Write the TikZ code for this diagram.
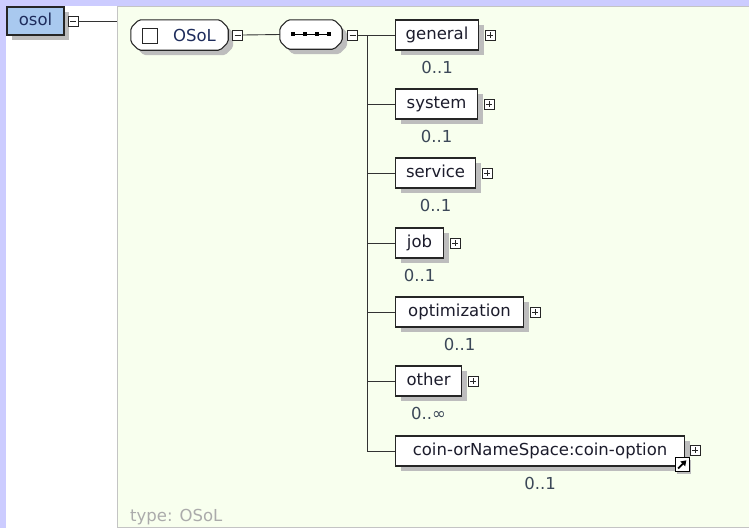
\documentclass[tikz,border=0pt]{standalone}
\usepackage{fontspec}
\setmainfont{DejaVu Sans}
\usetikzlibrary{shadows,arrows.meta,calc}
\definecolor{lav}{HTML}{CCCCFF}
\definecolor{typebg}{HTML}{F8FFEE}
\definecolor{typeborder}{HTML}{C4C4C4}
\definecolor{shadowgray}{HTML}{BDBDBD}
\definecolor{osolfill}{HTML}{A9C9EF}
\definecolor{txt}{HTML}{1C1C2C}
\definecolor{multtxt}{HTML}{3C4858}
\definecolor{navy}{HTML}{1E2C5C}
\definecolor{conncol}{HTML}{333333}
\definecolor{typetxt}{HTML}{ABABAB}
\newcommand\chamfshape[1]{%
  \draw[compshape] ($(#1.north west)+(8,0)$) -- ($(#1.north east)+(-8,0)$) -- ($(#1.north east)+(0,8)$)
    -- ($(#1.south east)+(0,-8)$) -- ($(#1.south east)+(-8,0)$) -- ($(#1.south west)+(8,0)$)
    -- ($(#1.south west)+(0,-8)$) -- ($(#1.north west)+(0,8)$) -- cycle;}
\begin{document}
\begin{tikzpicture}[x=1pt,y=-1pt,
  font=\fontsize{16.5}{19}\selectfont,
  shad/.style={drop shadow={shadow xshift=5pt,shadow yshift=-5pt,fill=shadowgray,opacity=1}},
  elem/.style={draw=black!85, fill=white, line width=1.1pt, minimum height=30pt,
    inner sep=0pt, anchor=west, text=txt, text height=12pt, text depth=3.5pt, shad},
  compnode/.style={inner sep=0pt},
  compshape/.style={draw=black!85, fill=white, line width=1.1pt, rounded corners=2pt, shad},
  minusbox/.style={draw=black!85, fill=white, line width=0.8pt, minimum size=10pt, inner sep=0pt,
    path picture={\draw[line width=0.9pt] ([xshift=2pt]path picture bounding box.west) -- ([xshift=-2pt]path picture bounding box.east);}},
  plusbox/.style={minusbox,
    path picture={\draw[line width=0.9pt] ([xshift=2pt]path picture bounding box.west) -- ([xshift=-2pt]path picture bounding box.east);
      \draw[line width=0.9pt] ([yshift=-2pt]path picture bounding box.north) -- ([yshift=2pt]path picture bounding box.south);}},
  mult/.style={text=multtxt, inner sep=0pt, text height=12pt, text depth=0pt},
  conn/.style={draw=conncol, line width=0.9pt},
]
\useasboundingbox (0,0) rectangle (749,528);
% background
\fill[white] (0,0) rectangle (749,528);
\fill[lav] (0,0) rectangle (749,6);
\fill[lav] (0,0) rectangle (6,528);
\draw[typeborder, line width=0.8pt, fill=typebg] (117,6.5) rectangle (760,527);
\node[anchor=west, text=typetxt, inner sep=0pt] (typelbl) at (130,517) {type: OSoL};

% root element
\node[draw=black!85, fill=osolfill, line width=1.1pt, minimum width=57pt, minimum height=28pt,
  inner sep=0pt, text=navy, text height=12pt, text depth=3.5pt, shad] (osol) at (35.5,21) {osol};
\node[minusbox] (osolm) at (73,21) {};
\coordinate (typeedge) at (117,21);
\draw[conn] (osolm.east) -- (typeedge);

% OSoL type node
\node[compnode, minimum width=97pt, minimum height=30pt] (OSoL) at (179.5,35) {};
\chamfshape{OSoL}
\node[draw=black!85, line width=1pt, fill=white, minimum size=15pt, inner sep=0pt] (osolcb) at (149.5,35.5) {};
\node[text=navy, inner sep=0pt, text height=12pt, text depth=0pt] (osoltxt) at (194.5,35.5) {OSoL};
\node[minusbox] (OSoLm) at (237.5,35) {};

% sequence
\node[compnode, minimum width=62pt, minimum height=29pt] (seq) at (311,34.5) {};
\chamfshape{seq}
\draw[line width=1pt] (293,34) -- (329,34);
\foreach \dx in {293,305,317,329} \fill (\dx-2.3,31.7) rectangle (\dx+2.3,36.3);
\node[minusbox] (seqm) at (352.5,35) {};
\draw[conn] (OSoLm.east) -- (seq.west);
\coordinate (bus) at (367,35);

% children
\node[elem, minimum width=83pt] (general) at (395,35) {general};
\node[elem, minimum width=82pt] (system) at (395,104) {system};
\node[elem, minimum width=80pt] (service) at (395,173) {service};
\node[elem, minimum width=48pt] (job) at (395,243) {job};
\node[elem, minimum width=128pt] (optimization) at (395,312) {optimization};
\node[elem, minimum width=66pt] (other) at (395,381) {other};
\node[elem, minimum width=289pt] (coin) at (395,451) {coin-orNameSpace:coin-option};

\foreach \n in {general,system,service,job,optimization,other}{
  \node[plusbox] (\n p) at ($(\n.east)+(11,0)$) {};
}
\node[plusbox] (coinp) at ($(coin.east)+(10,-1)$) {};
\node[draw=black, fill=white, line width=1pt, minimum size=14pt, inner sep=0pt,
  drop shadow={shadow xshift=2pt,shadow yshift=-2pt,fill=shadowgray,opacity=1}] (link) at ($(coin.south east)+(-3,-2)$) {};
\draw[line width=1.8pt, -{Triangle[length=5pt,width=6.5pt]}] ($(link.center)+(-4,4)$) -- ($(link.center)+(4.2,-4.2)$);

\foreach \n/\m in {general/0..1,system/0..1,service/0..1,job/0..1,optimization/0..1,other/0..∞,coin/0..1}{
  \node[mult] (\n m) at ($(\n.south)+(0,17)$) {\m};
}

\draw[conn] (seqm.east) -- (general.west);
\draw[conn] (bus) -- (bus |- coin.west);
\foreach \n in {system,service,job,optimization,other,coin}{
  \draw[conn] (bus) |- (\n.west);
}
\end{tikzpicture}
\end{document}
